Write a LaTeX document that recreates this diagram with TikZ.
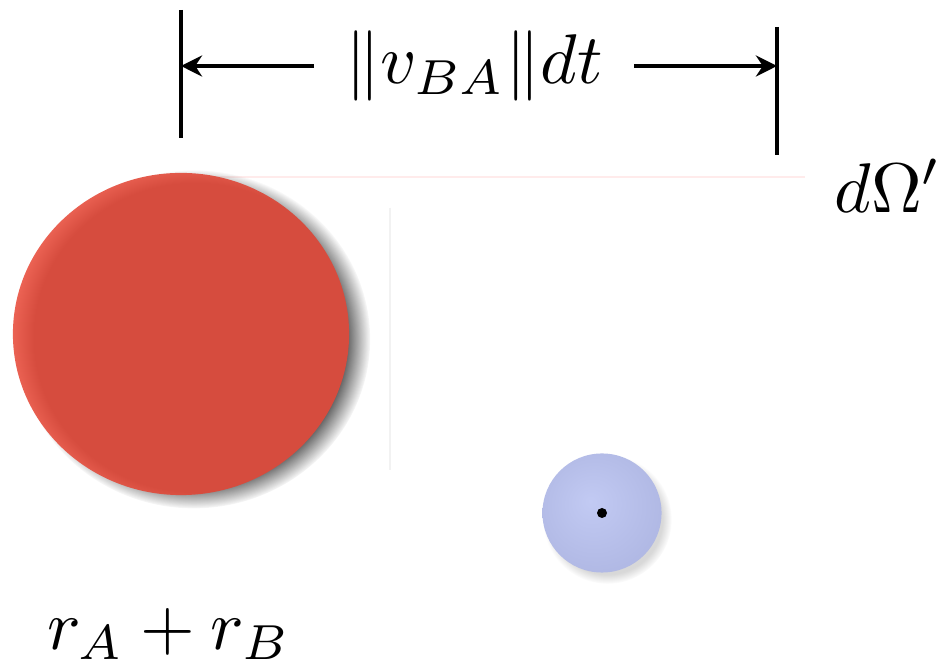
\documentclass[tikz,border=0pt]{standalone}
\usepackage{amsmath,amssymb}
\usepackage{tikz}
\usetikzlibrary{shapes.geometric,shadows,arrows.meta}

\definecolor{redA}{HTML}{D64C3E}
\definecolor{redL}{HTML}{EC6354}
\definecolor{blueL}{HTML}{C2CAF3}
\definecolor{blueD}{HTML}{AFB7E3}
\pgfdeclareradialshading{redball}{\pgfpoint{4bp}{-1bp}}
 {color(0bp)=(redA); color(24bp)=(redA); color(27bp)=(redL); color(50bp)=(redL)}
\pgfdeclareradialshading{blueball}{\pgfpoint{-5bp}{5bp}}
 {color(0bp)=(blueL); color(30bp)=(blueD); color(50bp)=(blueD)}

\tikzset{
 bigtext/.style={scale=2},
 bar/.style={line width=0.9pt},
 dimarrow/.style={line width=1.2pt,-{Stealth[length=6pt,width=6pt]}}
}

\begin{document}
\begin{tikzpicture}[x=0.01cm,y=-0.01cm]
 \fill[white] (0,0) rectangle (943,668);
 \useasboundingbox (0,0) rectangle (943,668);
 % faint guide lines
 \draw[red!8] (181,177)--(805,177);
 \draw[black!5] (390,208)--(390,470);
 % the two balls
 \node[ellipse,minimum width=3.36cm,minimum height=3.22cm,inner sep=0pt,
  shading=redball,
  circular drop shadow={shadow xshift=0.12cm,shadow yshift=-0.05cm,shadow scale=1.05,opacity=0.9,fill=black!75}]
  (ballA) at (181,334) {};
 \node[circle,minimum size=1.19cm,inner sep=0pt,shading=blueball,
  circular drop shadow={shadow xshift=0.05cm,shadow yshift=-0.06cm,shadow scale=1.08,opacity=0.3}]
  (ballB) at (602,513) {};
 \node[circle,fill=black,inner sep=0pt,minimum size=0.1cm] (dotB) at (ballB) {};
 % length bar
 \coordinate (lt) at (181,10);
 \coordinate (lb) at (181,138);
 \coordinate (rt) at (777,27);
 \coordinate (rb) at (777,155);
 \draw[bar] (lt)--(lb);
 \draw[bar] (rt)--(rb);
 \node[bigtext,inner xsep=0.15cm] (len) at (474,66) {$\|v_{BA}\|dt$};
 \draw[dimarrow] (len.west)--(len.west -| lt);
 \draw[dimarrow] (len.east)--(len.east -| rt);
 \node[bigtext] (omega) at (888,186) {$d\Omega'$};
 \node[bigtext] (radii) at (169,634) {$r_A+r_B$};
\end{tikzpicture}
\end{document}
